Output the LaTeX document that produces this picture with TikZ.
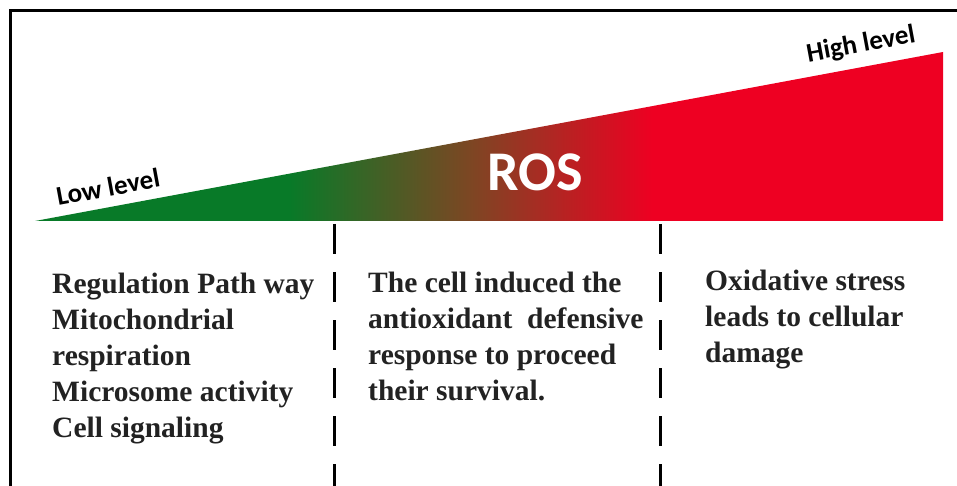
\documentclass[tikz,border=0pt]{standalone}
\usepackage{fontspec}
\setmainfont{Liberation Serif}
\newfontfamily\carlito{Carlito}
\definecolor{rosgreen}{RGB}{8,122,40}
\definecolor{rosmid}{RGB}{125,70,35}
\definecolor{rosred}{RGB}{238,0,34}
\definecolor{bodytext}{RGB}{34,34,34}
\pgfdeclarehorizontalshading{rosgrad}{100bp}{color(0bp)=(rosgreen); color(25bp)=(rosgreen); color(39bp)=(rosgreen); color(49bp)=(rosmid); color(59bp)=(rosred); color(100bp)=(rosred)}
\tikzset{
  body/.style={anchor=north west, inner sep=0pt, align=left, text=bodytext,
    font=\bfseries\fontsize{29.5}{36}\selectfont},
  levellabel/.style={inner sep=0pt, font=\carlito\bfseries\fontsize{27}{30}\selectfont, rotate=10.5},
  divider/.style={line width=3pt, dash pattern=on 30pt off 18pt},
}
\begin{document}
\begin{tikzpicture}[x=1pt,y=-1pt]
\useasboundingbox (0,0) rectangle (957,486);
\clip (0,0) rectangle (957,486);
\draw[line width=3pt] (10,11) rectangle (1000,530);
\shade[shading=rosgrad] (35,221) -- (943,52) -- (943,221) -- cycle;
\node[text=white, font=\carlito\bfseries\fontsize{56}{60}\selectfont, inner sep=0pt] (ros) at (535,172) {ROS};
\node[levellabel] (low) at (108,187) {Low level};
\node[levellabel] (high) at (861,45) {High level};
\draw[divider] (334,224) -- (334,490);
\draw[divider] (660,224) -- (660,490);
\node[body] (col1) at (52,273) {Regulation Path way\\Mitochondrial\\respiration\\Microsome activity\\Cell signaling};
\node[body] (col2) at (368,272) {The cell induced the\\antioxidant\ \ defensive\\response to proceed\\their survival.};
\node[body] (col3) at (705,270) {Oxidative stress\\leads to cellular\\damage};
\end{tikzpicture}
\end{document}
